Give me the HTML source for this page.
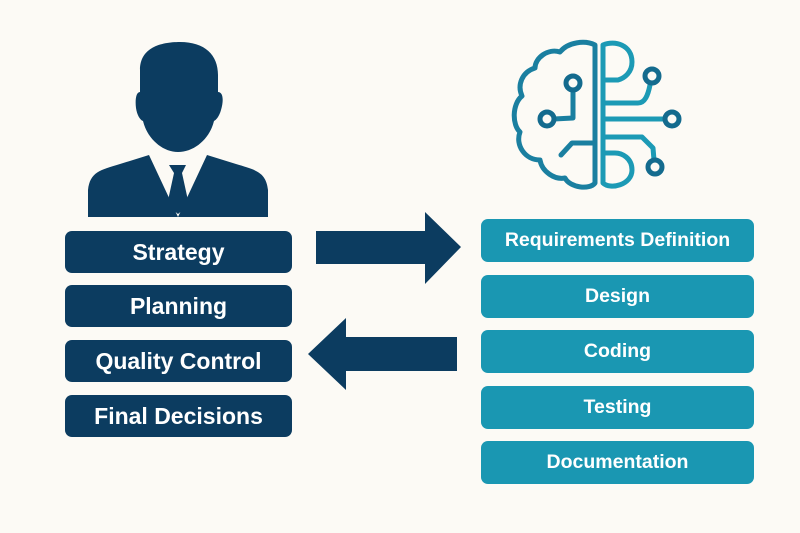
<!DOCTYPE html>
<html><head><style>
body{margin:0;background:#fcfaf5;}
.w{position:relative;width:800px;height:533px;overflow:hidden;background:#fcfaf5;font-family:"Liberation Sans",sans-serif;}
.b{position:absolute;border-radius:7px;color:#fff;display:flex;align-items:center;justify-content:center;}
.l{left:65px;width:227px;height:42px;background:#0c3c60;font-size:23px;font-weight:bold;}
.r{left:481px;width:273px;height:43px;background:#1a97b2;font-size:19.5px;font-weight:bold;}
</style></head><body><div class="w">
<svg width="800" height="533" style="position:absolute;left:0;top:0">
<g fill="#0c3c60">
<path d="M140 70 C140 48 160 42 180 42 C205 42 218 55 218 75 L218 92 C223 92 224 100 221 110 C219 117 216 120 214 121 C210 138 195 152 178 152 C162 152 147 138 143 121 C140 120 137 115 136 108 C135 100 136 92 140 92 Z"/>
<path d="M88 217 L88 190 C90 172 100 170 120 164 L149 155 L178 217 L207 155 L236 164 C256 170 266 172 268 190 L268 217 Z"/>
<path d="M169 165 L186 165 L182 173 L189 205 L178 214 L167 205 L174 173 Z"/>
<path d="M316 231 L425 231 L425 212 L461 247 L425 284 L425 264 L316 264 Z"/>
<path d="M457 337 L346 337 L346 318 L308 354 L346 390 L346 371 L457 371 Z"/>
</g>
<g fill="none" stroke="#1a8aa6" stroke-width="5" stroke-linecap="round" stroke-linejoin="round">
<path d="M595 45 C585 40 568 42 560 52 C548 48 535 58 535 68 C522 72 517 85 522 96 C512 104 512 125 520 132 C515 145 525 160 540 160 C542 172 555 180 565 178 C570 188 590 190 595 183 Z" stroke="#1a7fa0"/>
<path d="M603 45 C615 40 632 45 632 62 C632 72 625 78 618 80 L603 80 M603 45 L603 183 C610 190 632 185 632 170 C632 158 622 153 615 153 L603 153" stroke="#1c9ab5"/>
<path d="M603 103 L638 103 C645 103 648 95 650 85 M603 119 L665 119 M603 137 L642 137 L653 148 L654 160" stroke="#1c9ab5"/>
<path d="M573 90 L573 118 L554 119 M561 155 L572 143 L595 143" stroke="#1a7fa0"/>
<circle cx="652" cy="76" r="7" stroke="#146b8e"/>
<circle cx="672" cy="119" r="7" stroke="#146b8e"/>
<circle cx="655" cy="167" r="7" stroke="#146b8e"/>
<circle cx="573" cy="83" r="7" stroke="#146b8e"/>
<circle cx="547" cy="119" r="7" stroke="#146b8e"/>
</g>
</svg>
<div class="b l" style="top:231px">Strategy</div>
<div class="b l" style="top:285px">Planning</div>
<div class="b l" style="top:340px">Quality Control</div>
<div class="b l" style="top:395px">Final Decisions</div>
<div class="b r" style="top:219px">Requirements Definition</div>
<div class="b r" style="top:275px">Design</div>
<div class="b r" style="top:330px">Coding</div>
<div class="b r" style="top:386px">Testing</div>
<div class="b r" style="top:441px">Documentation</div>
</div></body></html>
